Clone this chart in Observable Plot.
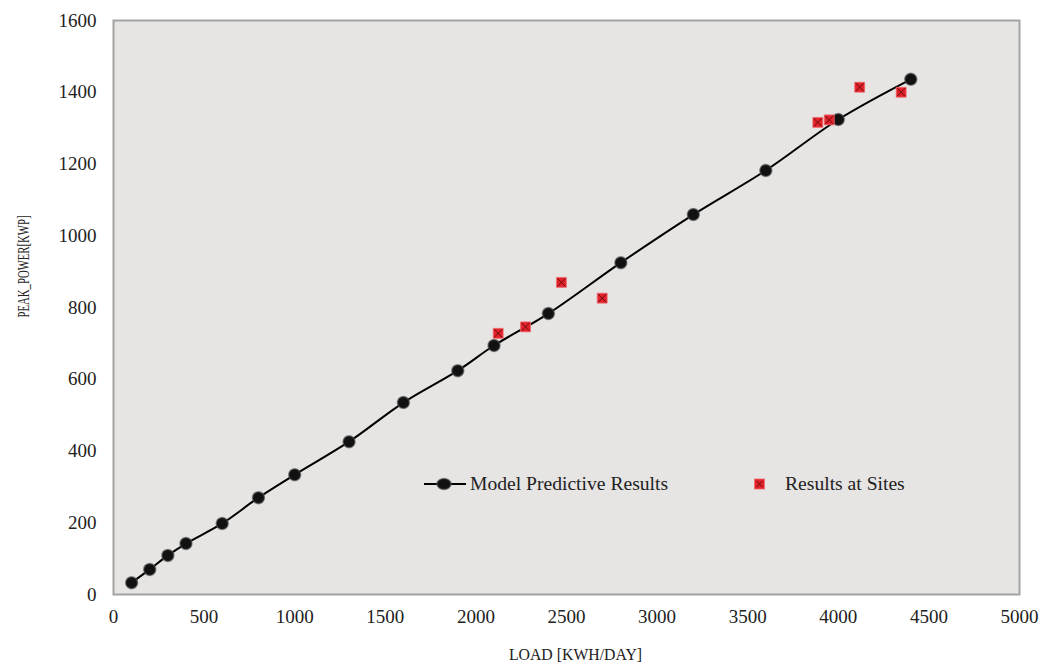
<!DOCTYPE html>
<html>
<head>
<meta charset="utf-8">
<script src="https://cdn.jsdelivr.net/npm/d3@7"></script>
<script src="https://cdn.jsdelivr.net/npm/@observablehq/plot@0.6"></script>
<style>
  html, body { margin: 0; padding: 0; background: #fff; }
  #wrap { position: relative; width: 1041px; height: 667px; font-family: "Liberation Serif", "Times New Roman", serif; }
  #wrap svg, #wrap svg g, #wrap svg text { font-family: "Liberation Serif", "Times New Roman", serif !important; font-variant: normal !important; font-variant-numeric: normal !important; }
  .leg { position: absolute; font-size: 19.6px; color: #222; white-space: nowrap; line-height: 1; }
</style>
</head>
<body>
<div id="wrap"></div>
<script>
// Model predictive results
const modelLoad  = [100, 200, 300, 400, 600, 800, 1000, 1300, 1600, 1900, 2100, 2400, 2800, 3200, 3600, 4000, 4400];
const modelPower = [33, 70, 109, 142, 198, 270, 334, 426, 535, 624, 694, 783, 925, 1059, 1182, 1324, 1436];
// Results at sites
const siteLoad  = [2123, 2274, 2472, 2697, 3887, 3950, 4118, 4347];
const sitePower = [728, 746, 870, 826, 1316, 1323, 1414, 1400];
// Axis ticks
const xTicks = [0, 500, 1000, 1500, 2000, 2500, 3000, 3500, 4000, 4500, 5000];
const yTicks = [0, 200, 400, 600, 800, 1000, 1200, 1400, 1600];
const seriesNames = ["Model Predictive Results", "Results at Sites"];
const xTitle = "LOAD [KWH/DAY]";
const yTitle = "PEAK_POWER[KWP]";

const model = modelLoad.map((x, i) => ({x, y: modelPower[i]}));
const sites = siteLoad.map((x, i) => ({x, y: sitePower[i]}));
const serif = "Liberation Serif";

const chart = Plot.plot({
  width: 1041,
  height: 667,
  marginLeft: 113,
  marginRight: 22,
  marginTop: 20,
  marginBottom: 73,
  style: {fontFamily: "'Liberation Serif', 'Times New Roman', serif", fontSize: "19px", color: "#222", background: "#fff"},
  x: {domain: [0, 5000]},
  y: {domain: [0, 1600]},
  marks: [
    Plot.frame({fill: "#e6e5e3"}),
    Plot.axisX(xTicks, {tickSize: 0, tickPadding: 15, label: null, fontSize: 19, fontFamily: serif, fontVariant: "normal", tickFormat: d3.format("d")}),
    Plot.axisY(yTicks, {tickSize: 0, tickPadding: 17, label: null, fontSize: 19, fontFamily: serif, fontVariant: "normal", tickFormat: d3.format("d")}),
    Plot.line(model, {x: "x", y: "y", stroke: "#000", strokeWidth: 2, curve: "catmull-rom"}),
    Plot.dot(model, {x: "x", y: "y", r: 6, fill: "#111", stroke: "#555", strokeWidth: 1.5, strokeOpacity: 0.6}),
    Plot.dot(sites, {x: "x", y: "y", symbol: "square", r: 5.6, fill: "#e3222b", stroke: "#f06a6f", strokeWidth: 0.8}),
    Plot.dot(sites, {x: "x", y: "y", symbol: "times", r: 3.6, stroke: "#5a0a0a", strokeWidth: 0.9}),
    Plot.frame({stroke: "#a3a3a3", strokeWidth: 2}),
    Plot.text([xTitle], {frameAnchor: "bottom", dx: 9, dy: 65, fontSize: 15.8, fontFamily: serif, fill: "#222"}),
    Plot.text([yTitle], {frameAnchor: "left", rotate: -90, textAnchor: "start", dx: -90, dy: 10, fontSize: 16.5, fontFamily: serif, fill: "#222", className: "ytitle"})
  ]
});

const wrap = document.getElementById("wrap");
wrap.appendChild(chart);
// compress the y title along its length, as in the reference
const yt = chart.querySelector(".ytitle text");
if (yt) { yt.setAttribute("textLength", "102"); yt.setAttribute("lengthAdjust", "spacingAndGlyphs"); }

// Legend (inside plot area)
const leg1 = document.createElement("div");
leg1.className = "leg";
leg1.style.left = "424px"; leg1.style.top = "472px";
leg1.innerHTML = '<svg width="46" height="20" style="vertical-align:middle"><line x1="0" y1="10" x2="42" y2="10" stroke="#000" stroke-width="2"/><ellipse cx="20" cy="10" rx="7" ry="5.5" fill="#111" stroke="#555" stroke-opacity="0.6" stroke-width="1.5"/></svg><span style="vertical-align:middle">' + seriesNames[0] + '</span>';
wrap.appendChild(leg1);

const leg2 = document.createElement("div");
leg2.className = "leg";
leg2.style.left = "754px"; leg2.style.top = "472px";
leg2.innerHTML = '<svg width="31" height="20" style="vertical-align:middle"><rect x="0.5" y="5" width="10" height="10" fill="#e3222b" stroke="#f06a6f" stroke-width="0.8"/><path d="M2.5 7 L8.5 13 M8.5 7 L2.5 13" stroke="#5a0a0a" stroke-width="0.9"/></svg><span style="vertical-align:middle">' + seriesNames[1] + '</span>';
wrap.appendChild(leg2);
</script>
</body>
</html>
